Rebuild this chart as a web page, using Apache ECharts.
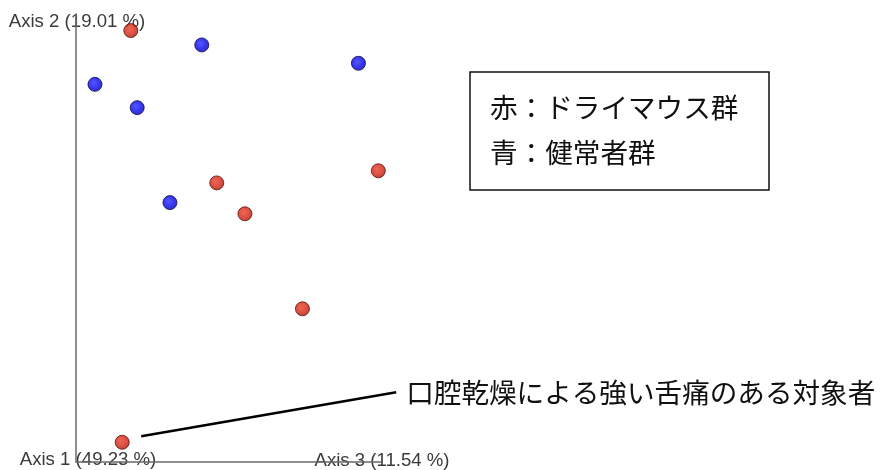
<!DOCTYPE html>
<html>
<head>
<meta charset="utf-8">
<script src="https://cdn.jsdelivr.net/npm/echarts@6/dist/echarts.min.js"></script>
<style>
  html, body { margin: 0; padding: 0; background: #fff; }
  #chart { width: 881px; height: 470px; }
</style>
</head>
<body>
<div id="chart"></div>
<script>
// PCoA sample positions projected onto the view plane (Axis 3 across, Axis 2 up)
const dryMouthX = [17.9, 98.8, 46.0, 55.2, 74.0, 15.1];
const dryMouthY = [96.3, 65.0, 62.3, 55.4, 34.2, 4.4];
const healthyX = [41.1, 92.3, 6.2, 20.0, 30.7];
const healthyY = [93.1, 89.0, 84.3, 79.1, 57.9];

// axis captions
const axisLabels = ['Axis 2 (19.01 %)', 'Axis 1 (49.23 %)', 'Axis 3 (11.54 %)'];
const legendLines = ['赤：ドライマウス群', '青：健常者群'];
const noteText = '口腔乾燥による強い舌痛のある対象者';
const noteIndex = 5; // dry-mouth sample the note points at

const toPairs = (xs, ys) => xs.map((x, i) => [x, ys[i]]);

function ball(light, mid, dark) {
  return {
    type: 'radial', x: 0.42, y: 0.4, r: 0.62,
    colorStops: [
      { offset: 0, color: light },
      { offset: 0.55, color: mid },
      { offset: 1, color: dark }
    ]
  };
}

const chart = echarts.init(document.getElementById('chart'), null, { renderer: 'canvas' });

const cjk = '"Noto Sans CJK JP", "Noto Sans CJK SC", sans-serif';
const latin = '"Liberation Sans", Arial, sans-serif';
const cjkSize = '27.6px ';
const latinSize = '18.6px ';

chart.setOption({
  animation: false,
  backgroundColor: '#fff',
  grid: { left: 76, top: 14, width: 306, height: 448 },
  xAxis: {
    type: 'value', min: 0, max: 100,
    axisLine: { show: true, onZero: false, lineStyle: { color: '#6a6a6a', width: 1.5 } },
    axisTick: { show: false }, axisLabel: { show: false }, splitLine: { show: false }
  },
  yAxis: {
    type: 'value', min: 0, max: 100,
    axisLine: { show: true, onZero: false, lineStyle: { color: '#6a6a6a', width: 1.5 } },
    axisTick: { show: false }, axisLabel: { show: false }, splitLine: { show: false }
  },
  series: [
    {
      name: 'ドライマウス群', type: 'scatter', clip: false,
      data: toPairs(dryMouthX, dryMouthY), symbolSize: 14,
      itemStyle: { color: ball('#ea3f28', '#d62614', '#a01608'), borderColor: '#5a1208', borderWidth: 1 }
    },
    {
      name: '健常者群', type: 'scatter', clip: false,
      data: toPairs(healthyX, healthyY), symbolSize: 14,
      itemStyle: { color: ball('#2c2cff', '#0606ee', '#0000a8'), borderColor: '#0a0a4e', borderWidth: 1 }
    }
  ]
});

// annotation anchored to the highlighted sample
const p = chart.convertToPixel({ seriesIndex: 0 }, [dryMouthX[noteIndex], dryMouthY[noteIndex]]);
const lineStart = [p[0] + 19, p[1] - 6];
const lineEnd = [p[0] + 274, p[1] - 50];

chart.setOption({
  graphic: [
    // axis captions
    { type: 'text', x: 77, y: 22, style: { text: axisLabels[0], fill: '#3a3a3a', font: latinSize + latin, align: 'center', verticalAlign: 'middle' } },
    { type: 'text', x: 88, y: 460, style: { text: axisLabels[1], fill: '#3a3a3a', font: latinSize + latin, align: 'center', verticalAlign: 'middle' } },
    { type: 'text', x: 382, y: 461, style: { text: axisLabels[2], fill: '#3a3a3a', font: latinSize + latin, align: 'center', verticalAlign: 'middle' } },
    // group key box
    { type: 'rect', shape: { x: 470, y: 72, width: 299, height: 118 }, style: { fill: '#fff', stroke: '#111', lineWidth: 1.5 } },
    { type: 'text', x: 490, y: 108, style: { text: legendLines[0], fill: '#111', font: cjkSize + cjk, verticalAlign: 'middle' } },
    { type: 'text', x: 490, y: 153, style: { text: legendLines[1], fill: '#111', font: cjkSize + cjk, verticalAlign: 'middle' } },
    // callout
    { type: 'line', shape: { x1: lineStart[0], y1: lineStart[1], x2: lineEnd[0], y2: lineEnd[1] }, style: { stroke: '#000', lineWidth: 2.5 } },
    { type: 'text', x: lineEnd[0] + 10, y: lineEnd[1], style: { text: noteText, fill: '#111', font: cjkSize + cjk, verticalAlign: 'middle' } }
  ]
});
</script>
</body>
</html>
